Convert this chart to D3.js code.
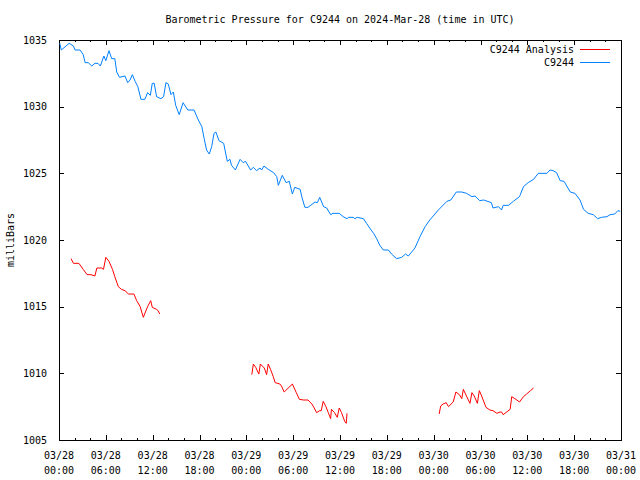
<!DOCTYPE html>
<html>
<head>
<meta charset="utf-8">
<script src="https://cdn.jsdelivr.net/npm/d3@7"></script>
<style>
  html, body { margin: 0; padding: 0; background: #fff; }
  svg { display: block; }
  text { font-family: "DejaVu Sans Mono", "Liberation Mono", monospace; font-size: 10px; fill: #000; }
</style>
</head>
<body>
<svg id="chart" width="640" height="480"></svg>
<script>
// ---- data (hours since 2024-03-28 00:00 UTC) ----
const titleText = "Barometric Pressure for C9244 on 2024-Mar-28 (time in UTC)";
const yLabel = "milliBars";
const seriesNames = ["C9244 Analysis", "C9244"];
const seriesColors = ["#ff0000", "#0080ff"];
const yTicks = [1005, 1010, 1015, 1020, 1025, 1030, 1035];
const xTickHours = [0, 6, 12, 18, 24, 30, 36, 42, 48, 54, 60, 66, 72];
const xTickDates = ["03/28","03/28","03/28","03/28","03/29","03/29","03/29","03/29","03/30","03/30","03/30","03/30","03/31"];
const xTickTimes = ["00:00","06:00","12:00","18:00","00:00","06:00","12:00","18:00","00:00","06:00","12:00","18:00","00:00"];

const stationHours = [0.1,0.3,1.3,1.85,2.05,2.7,3.1,3.35,3.75,4.2,4.6,5.0,5.3,5.75,6.0,6.4,6.75,7.15,7.4,7.75,
  8.45,8.8,9.1,9.4,9.75,10.1,10.5,11.0,11.35,11.7,11.95,12.2,12.5,13.05,13.4,13.7,14.0,14.35,14.65,14.95,
  15.4,15.9,16.5,17.3,17.85,18.3,18.6,18.9,19.25,19.56,19.86,20.1,20.5,21.1,21.56,21.9,22.1,22.6,23.2,23.6,
  23.9,24.55,24.9,25.3,25.75,25.96,26.26,26.8,27.5,27.9,28.1,28.6,29.1,29.5,29.9,30.2,30.9,31.1,31.5,31.9,
  32.8,33.1,33.4,33.9,34.3,34.8,35.1,35.9,36.4,36.9,37.1,37.7,37.9,38.2,39.0,39.4,39.8,40.3,40.7,41.1,
  41.55,42.2,42.6,43.25,43.9,44.4,44.75,45.6,46.25,46.9,47.5,48.6,49.7,50.2,50.9,51.6,52.2,52.9,53.3,53.9,
  54.4,55.4,55.6,56.3,56.7,56.9,57.6,58.2,59.0,59.5,60.1,60.8,61.4,62.5,62.9,63.3,63.75,64.2,64.7,65.5,
  66.1,66.75,67.2,67.8,68.45,69.0,69.5,70.2,70.6,71.2,71.6,71.9];
const stationValues = [1034.75,1034.25,1034.75,1034.55,1034.25,1034.25,1033.9,1033.3,1033.3,1033.05,1033.25,1033.25,1033.05,1033.8,1033.45,1034.2,1033.6,1033.6,1032.6,1032.2,
  1032.3,1031.8,1032.0,1032.4,1031.9,1031.5,1030.55,1030.55,1031.05,1030.85,1031.75,1031.75,1030.75,1030.6,1030.75,1031.8,1031.7,1030.9,1031.1,1030.1,
  1029.4,1030.3,1029.75,1029.75,1029.0,1028.5,1027.6,1026.75,1026.45,1027.0,1028.0,1028.1,1027.45,1027.25,1025.9,1026.05,1025.6,1025.25,1026.05,1025.8,
  1025.9,1025.25,1025.45,1025.2,1025.4,1025.25,1025.55,1025.3,1025.05,1024.75,1024.1,1024.85,1024.3,1024.4,1023.45,1023.95,1023.8,1023.25,1022.45,1022.45,
  1022.85,1022.8,1023.2,1022.5,1022.4,1021.9,1022.0,1022.0,1021.75,1021.6,1021.7,1021.7,1021.6,1021.7,1021.6,1021.25,1020.9,1020.5,1020.1,1019.6,
  1019.25,1019.25,1018.95,1018.6,1018.7,1018.95,1018.8,1019.4,1020.25,1021.0,1021.5,1022.25,1022.9,1023.0,1023.6,1023.6,1023.5,1023.25,1023.3,1022.95,
  1023.0,1022.8,1022.4,1022.5,1022.25,1022.6,1022.6,1022.9,1023.25,1024.0,1024.3,1024.55,1025.0,1025.0,1025.25,1025.2,1025.05,1024.45,1024.4,1023.6,
  1023.5,1023.0,1022.3,1022.0,1021.9,1021.6,1021.7,1021.75,1021.9,1021.95,1022.2,1022.15];

// null marks a gap in the analysis series
const analysisHours = [1.55,1.85,2.55,3.1,3.6,4.1,4.6,4.85,5.45,5.7,6.0,6.4,6.85,7.15,7.6,8.0,8.45,8.9,9.6,9.95,
  10.4,10.8,11.35,11.75,11.95,12.5,12.7,12.9,18,
  24.7,24.9,25.2,25.6,25.8,26.3,26.6,26.8,27.1,27.45,27.7,28.3,28.5,28.85,29.9,30.4,30.8,31.3,31.9,32.4,
  32.7,33.0,33.4,33.6,33.85,34.2,34.5,34.8,34.9,35.3,35.65,35.9,36.2,36.6,36.8,36.9,42,
  48.7,48.9,49.2,49.6,49.9,50.5,50.85,51.3,51.6,51.8,52.2,52.65,52.9,53.2,53.6,53.85,54.15,54.7,55.2,55.6,
  56.1,56.5,56.7,56.9,57.8,58.0,58.4,59.0,59.5,59.9,60.4,60.8];
const analysisValues = [1018.6,1018.25,1018.25,1017.8,1017.4,1017.4,1017.3,1017.9,1017.9,1017.8,1018.7,1018.4,1017.8,1017.25,1016.5,1016.3,1016.2,1015.95,1015.95,1015.45,
  1015.0,1014.2,1015.0,1015.45,1014.95,1014.8,1014.7,1014.45,null,
  1009.9,1010.7,1010.45,1009.95,1010.7,1010.4,1009.9,1010.7,1010.3,1009.75,1009.3,1009.2,1009.05,1008.6,1009.2,1008.55,1008.05,1008.0,1008.0,1007.7,
  1007.4,1007.05,1007.2,1007.2,1007.9,1007.5,1007.05,1006.6,1007.3,1007.05,1006.7,1007.4,1007.05,1006.4,1006.25,1007.0,null,
  1006.95,1007.55,1007.7,1007.8,1007.5,1007.85,1008.6,1008.4,1008.1,1008.8,1008.3,1007.75,1008.55,1008.3,1007.75,1008.7,1008.3,1007.45,1007.25,1007.2,
  1007.0,1007.1,1007.1,1006.9,1007.3,1008.25,1008.1,1007.85,1008.25,1008.45,1008.7,1008.9];

// ---- chart ----
(function () {
const t0 = Date.UTC(2024, 2, 28, 0, 0);
const toDate = h => new Date(t0 + h * 3600000);

const svg = d3.select("#chart");
const mL = 59, mR = 621, mT = 40, mB = 440;

const x = d3.scaleUtc().domain([toDate(0), toDate(72)]).range([mL, mR]);
const y = d3.scaleLinear().domain([1005, 1035]).range([mB, mT]);

const minorTicks = d3.range(0, 73, 2).filter(h => h % 6 !== 0).map(toDate);
const majorTicks = xTickHours.map(toDate);

function xAxisTicks(g, gen) { g.call(gen); g.select(".domain").remove(); g.selectAll("text").remove(); }

// bottom ticks (inward)
svg.append("g").attr("transform", `translate(0,${mB})`)
  .call(g => xAxisTicks(g, d3.axisBottom(x).tickValues(majorTicks).tickSizeInner(-5).tickSizeOuter(0)));
svg.append("g").attr("transform", `translate(0,${mB})`)
  .call(g => xAxisTicks(g, d3.axisBottom(x).tickValues(minorTicks).tickSizeInner(-2).tickSizeOuter(0)));
// top ticks (mirrored, inward)
svg.append("g").attr("transform", `translate(0,${mT})`)
  .call(g => xAxisTicks(g, d3.axisTop(x).tickValues(majorTicks).tickSizeInner(-5).tickSizeOuter(0)));
svg.append("g").attr("transform", `translate(0,${mT})`)
  .call(g => xAxisTicks(g, d3.axisTop(x).tickValues(minorTicks).tickSizeInner(-2).tickSizeOuter(0)));
// left & right ticks
svg.append("g").attr("transform", `translate(${mL},0)`)
  .call(d3.axisLeft(y).tickValues(yTicks).tickSizeInner(-5).tickSizeOuter(0).tickPadding(12).tickFormat(d3.format("d")))
  .call(g => g.select(".domain").remove())
  .call(g => g.selectAll("text").attr("font-family", null).attr("font-size", null).attr("fill", "#000"));
svg.append("g").attr("transform", `translate(${mR},0)`)
  .call(d3.axisRight(y).tickValues(yTicks).tickSizeInner(-5).tickSizeOuter(0).tickFormat(""))
  .call(g => g.select(".domain").remove());

svg.selectAll(".tick line").attr("stroke", "#000").attr("shape-rendering", "crispEdges");

// x tick labels, two lines
const xl = svg.append("g");
xTickHours.forEach((h, i) => {
  const t = xl.append("text").attr("x", x(toDate(h))).attr("text-anchor", "middle");
  t.append("tspan").attr("x", x(toDate(h))).attr("y", 459).text(xTickDates[i]);
  t.append("tspan").attr("x", x(toDate(h))).attr("y", 474).text(xTickTimes[i]);
});

// frame
svg.append("rect").attr("x", mL + 0.5).attr("y", mT + 0.5)
  .attr("width", mR - mL).attr("height", mB - mT)
  .attr("fill", "none").attr("stroke", "#000").attr("stroke-width", 1)
  .attr("shape-rendering", "crispEdges");

// lines
const line = d3.line()
  .defined(d => d.v !== null)
  .x(d => x(toDate(d.h)))
  .y(d => y(d.v));

const analysisData = analysisHours.map((h, i) => ({h, v: analysisValues[i]}));
const stationData = stationHours.map((h, i) => ({h, v: stationValues[i]}));

svg.append("path").datum(analysisData).attr("d", line)
  .attr("fill", "none").attr("stroke", seriesColors[0]).attr("stroke-width", 1);
svg.append("path").datum(stationData).attr("d", line)
  .attr("fill", "none").attr("stroke", seriesColors[1]).attr("stroke-width", 1);

// title
svg.append("text").attr("x", 340).attr("y", 23).attr("text-anchor", "middle").text(titleText);

// y label
svg.append("text").attr("transform", "translate(14,240) rotate(-90)")
  .attr("text-anchor", "middle").text(yLabel);

// legend
const legY = [49, 62];
seriesNames.forEach((name, i) => {
  svg.append("text").attr("x", 574).attr("y", legY[i] + 4).attr("text-anchor", "end").text(name);
  svg.append("line").attr("x1", 580).attr("x2", 610).attr("y1", legY[i] + 0.5).attr("y2", legY[i] + 0.5)
    .attr("stroke", seriesColors[i]).attr("stroke-width", 1);
});
})();
</script>
</body>
</html>
